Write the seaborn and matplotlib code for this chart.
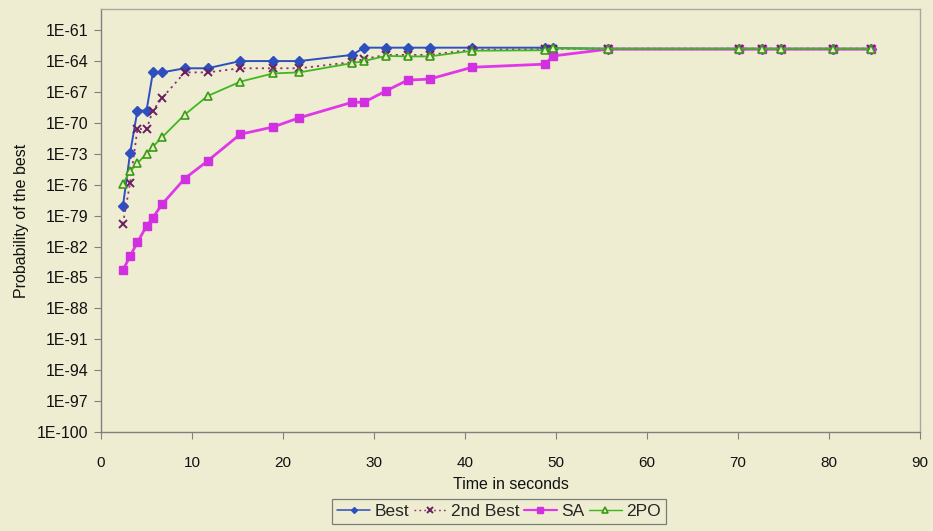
import numpy as np
import pandas as pd
import matplotlib
matplotlib.use("Agg")
import matplotlib.pyplot as plt
from matplotlib.ticker import FixedLocator, FixedFormatter, NullLocator
from matplotlib.lines import Line2D
import seaborn as sns

# ---- data (exponents of probability) ----
time_s = [2.4, 3.2, 4.0, 5.0, 5.7, 6.7, 9.2, 11.7, 15.3, 18.9, 21.8, 27.6, 28.9,
          31.3, 33.7, 36.1, 40.8, 48.8, 49.7, 55.7, 70.1, 72.6, 74.7, 80.5, 84.6]
best_exp = [-78.1, -72.9, -68.8, -68.8, -65.1, -65.1, -64.7, -64.7, -64.0, -64.0,
            -64.0, -63.4, -62.7, -62.7, -62.7, -62.7, -62.7, -62.7, -62.75, -62.8,
            -62.8, -62.8, -62.8, -62.8, -62.8]
second_exp = [-79.8, -75.8, -70.6, -70.6, -68.8, -67.6, -65.1, -65.1, -64.7, -64.7,
              -64.7, -64.1, -63.8, -63.4, -63.4, -63.4, -62.9, -62.85, -62.8, -62.8,
              -62.8, -62.8, -62.8, -62.8, -62.8]
sa_exp = [-84.3, -82.9, -81.6, -80.0, -79.2, -77.9, -75.4, -73.7, -71.1, -70.4,
          -69.5, -68.0, -68.0, -66.9, -65.85, -65.75, -64.6, -64.3, -63.5, -62.85,
          -62.85, -62.85, -62.85, -62.85, -62.85]
po2_exp = [-75.9, -74.7, -73.9, -73.0, -72.3, -71.4, -69.2, -67.4, -66.0, -65.2,
           -65.1, -64.2, -64.0, -63.5, -63.55, -63.55, -63.0, -62.95, -62.75, -62.8,
           -62.8, -62.8, -62.8, -62.8, -62.8]
series_names = ["Best", "2nd Best", "SA", "2PO"]
y_tick_exps = list(range(-61, -101, -3))
x_ticks = list(range(0, 91, 10))

bg = "#EEEDD2"
sns.set_theme(style="white")
plt.rcParams["font.family"] = ["Liberation Sans", "DejaVu Sans"]

fig = plt.figure(figsize=(9.33, 5.31), dpi=100, facecolor=bg)
ax = fig.add_axes([0.1083, 0.1864, 0.8777, 0.7966])
ax.set_facecolor(bg)

styles = {
    "Best": dict(color="#2D4FC0", marker="D", ms=5, lw=1.4, ls="-", mfc="#2D4FC0", mec="#2D4FC0", mew=1),
    "2nd Best": dict(color="#8E2F78", marker="x", ms=6, lw=1.3, ls=(0, (1.2, 2.2)), mfc="#8E2F78", mec="#6A2060", mew=1.4),
    "SA": dict(color="#E038E8", marker="s", ms=6, lw=2.0, ls="-", mfc="#D030E0", mec="#D030E0", mew=1),
    "2PO": dict(color="#3FB81E", marker="^", ms=6, lw=1.3, ls="-", mfc="#E8F0C0", mec="#3A9A18", mew=1.2),
}
values = {"Best": best_exp, "2nd Best": second_exp, "SA": sa_exp, "2PO": po2_exp}

draw_order = ["Best", "SA", "2nd Best", "2PO"]
for i, name in enumerate(draw_order):
    st = styles[name]
    df = pd.DataFrame({"t": time_s, "p": np.power(10.0, np.array(values[name]))})
    sns.lineplot(data=df, x="t", y="p", ax=ax, color=st["color"], linewidth=st["lw"],
                 linestyle=st["ls"], marker=st["marker"], markersize=st["ms"],
                 markerfacecolor=st["mfc"], markeredgecolor=st["mec"],
                 markeredgewidth=st["mew"], legend=False, zorder=3 + i)

ax.set_yscale("log")
ax.set_ylim(1e-100, 10 ** -58.95)
ax.set_xlim(0, 90)
ax.yaxis.set_major_locator(FixedLocator([10.0 ** e for e in y_tick_exps]))
ax.yaxis.set_major_formatter(FixedFormatter([f"1E{e}" for e in y_tick_exps]))
ax.yaxis.set_minor_locator(NullLocator())
ax.set_xticks(x_ticks)
ax.set_xticklabels([str(v) for v in x_ticks])

ax.tick_params(axis="both", which="major", direction="out", length=5, width=0.8,
               color="#808080", labelsize=11, labelcolor="#111111", pad=4, left=True, bottom=True)
ax.tick_params(axis="y", labelsize=11.5)
ax.tick_params(axis="x", pad=12)
for s in ["left", "bottom"]:
    ax.spines[s].set_color("#808080")
    ax.spines[s].set_linewidth(1.0)
for s in ["top", "right"]:
    ax.spines[s].set_color("#A8A8A0")
    ax.spines[s].set_linewidth(1.0)

ax.set_xlabel("Time in seconds", fontsize=11.5, color="#111111", labelpad=5)
ax.set_ylabel("Probability of the best", fontsize=11.5, color="#111111", labelpad=6)

handles = []
for name in series_names:
    st = styles[name]
    handles.append(Line2D([0], [0], color=st["color"], lw=st["lw"] * 0.8, ls=st["ls"],
                          marker=st["marker"], ms=st["ms"] - 2, mfc=st["mfc"],
                          mec=st["mec"], mew=st["mew"]))
leg = fig.legend(handles, series_names, loc="lower center", bbox_to_anchor=(0.535, 0.006),
                 ncol=4, frameon=True, fontsize=12.5, handlelength=1.9, handletextpad=0.25,
                 columnspacing=0.25, borderpad=0.3, borderaxespad=0.2, fancybox=False)
leg.get_frame().set_facecolor(bg)
leg.get_frame().set_edgecolor("#606060")
leg.get_frame().set_linewidth(0.9)

fig.savefig("out.png", dpi=100, facecolor=bg)
